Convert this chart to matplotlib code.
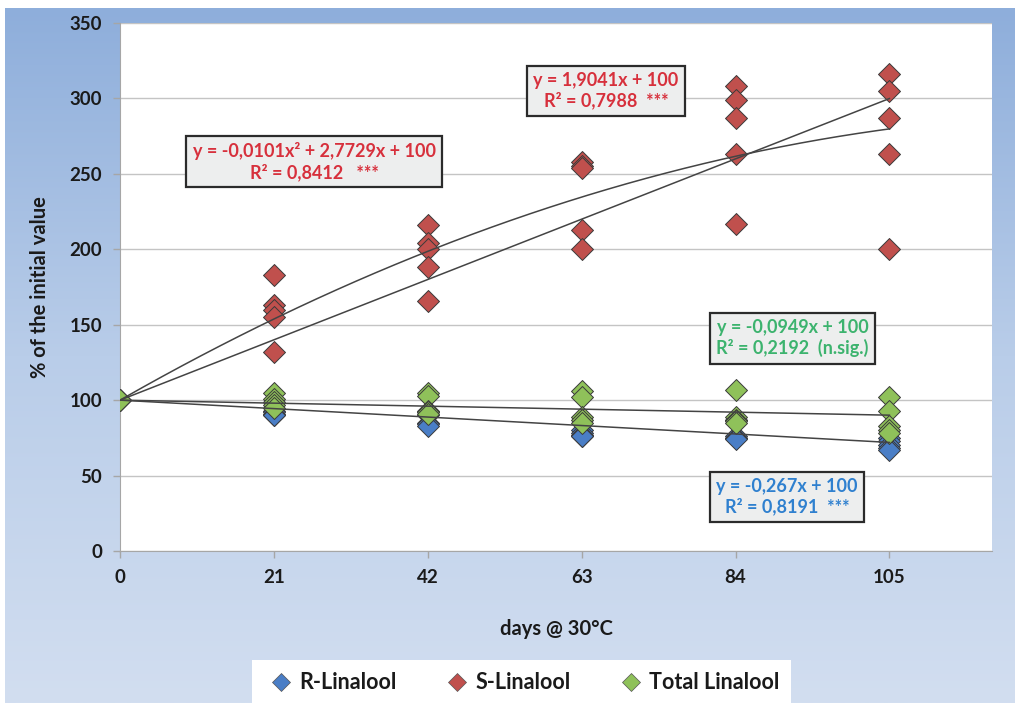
import numpy as np
import matplotlib
matplotlib.use('Agg')
import matplotlib.pyplot as plt
from matplotlib.lines import Line2D
from matplotlib.colors import LinearSegmentedColormap

plt.rcParams['font.family'] = ['Lato', 'DejaVu Sans']

# days of storage, 5 replicates per day (day 0 = 100 %)
days = [0, 21, 42, 63, 84, 105]

r_linalool = [
    [100],
    [93, 92, 91, 90, 90],
    [92, 90, 85, 84, 83],
    [80, 78, 77, 76, 76],
    [87, 76, 75, 75, 74],
    [75, 73, 70, 68, 67],
]
s_linalool = [
    [100],
    [183, 163, 160, 155, 132],
    [216, 204, 200, 188, 166],
    [258, 255, 254, 213, 200],
    [308, 299, 287, 263, 217],
    [316, 305, 287, 263, 200],
]
total_linalool = [
    [100],
    [105, 101, 99, 97, 95],
    [105, 103, 93, 92, 91],
    [106, 102, 89, 87, 85],
    [107, 89, 87, 86, 85],
    [102, 93, 83, 80, 78],
]

series_names = ['R-Linalool', 'S-Linalool', 'Total Linalool']
marker_colors = ['#4a7ec6', '#c0504d', '#8fc15a']
text_colors = ['#2f80cf', '#d7303c', '#3cb36e']


def flatten(groups):
    xs, ys = [], []
    for d, vals in zip(days, groups):
        xs += [d] * len(vals)
        ys += vals
    return xs, ys


fig = plt.figure(figsize=(10.19, 7.03), dpi=100)
fig.patch.set_facecolor('white')

# blue gradient background
bg = fig.add_axes([5 / 1019, 0, 1009 / 1019, 695 / 703], zorder=-5)
cmap = LinearSegmentedColormap.from_list('bg', ['#8eaedb', '#b9cde9', '#d2def0'])
bg.imshow(np.linspace(0, 1, 256).reshape(-1, 1), aspect='auto', cmap=cmap,
          extent=[0, 1, 0, 1])
bg.axis('off')

ax = fig.add_axes([120 / 1019, 152 / 703, 872 / 1019, 528 / 703])
ax.set_facecolor('white')

for data, col in zip([r_linalool, s_linalool, total_linalool], marker_colors):
    xs, ys = flatten(data)
    ax.scatter(xs, ys, marker='D', s=125, color=col, edgecolor='#3a3a3a',
               linewidth=0.7, zorder=3)

# trendlines
xt = np.linspace(0, 105, 200)
ax.plot(xt, -0.267 * xt + 100, color='#444444', lw=1.1, zorder=4)
ax.plot(xt, -0.0949 * xt + 100, color='#444444', lw=1.1, zorder=4)
ax.plot(xt, 1.9041 * xt + 100, color='#444444', lw=1.1, zorder=4)
ax.plot(xt, -0.0101 * xt ** 2 + 2.7729 * xt + 100, color='#444444', lw=1.1, zorder=4)

box = dict(boxstyle='square,pad=0.35', fc='#edeeee', ec='#2b2b2b', lw=1.6)
kw = dict(fontsize=13, fontweight='bold', ha='center', va='center', bbox=box,
          linespacing=1.2, zorder=5)
ax.text(66.3, 305, 'y = 1,9041x + 100\nR² = 0,7988  ***', color=text_colors[1], **kw)
ax.text(26.5, 258, 'y = -0,0101x² + 2,7729x + 100\nR² = 0,8412   ***',
        color=text_colors[1], **kw)
ax.text(91.8, 141, 'y = -0,0949x + 100\nR² = 0,2192  (n.sig.)',
        color=text_colors[2], **kw)
ax.text(91, 36, 'y = -0,267x + 100\nR² = 0,8191  ***', color=text_colors[0], **kw)

ax.set_xlim(0, 119)
ax.set_ylim(0, 350)
ax.set_xticks(days)
ax.set_yticks(np.arange(0, 351, 50))
ax.grid(axis='y', color='#c4c4c4', lw=1)
ax.set_axisbelow(True)
for side in ['top', 'right']:
    ax.spines[side].set_visible(False)
for side in ['left', 'bottom']:
    ax.spines[side].set_color('#a6a6a6')
ax.tick_params(colors='#a6a6a6', length=5, width=1, labelcolor='#1a1a1a',
               labelsize=13.5, pad=8)
for lbl in ax.get_xticklabels() + ax.get_yticklabels():
    lbl.set_fontweight('bold')

ax.set_xlabel('days @ 30°C', fontsize=14.5, fontweight='bold', color='#1a1a1a',
              labelpad=24)
ax.set_ylabel('% of the initial value', fontsize=14.5, fontweight='bold',
              color='#1a1a1a', labelpad=14)

handles = [Line2D([], [], marker='D', ls='none', color=c, markeredgecolor='#555555',
                  markeredgewidth=0.5, markersize=9) for c in marker_colors]
leg = fig.legend(handles, series_names, loc='lower center', ncol=3,
                 bbox_to_anchor=(0.512, -0.018), fontsize=15.5, frameon=True,
                 fancybox=False, handletextpad=0.05, columnspacing=2.0,
                 handlelength=1.6, borderpad=0.55)
leg.get_frame().set_edgecolor('none')
leg.get_frame().set_facecolor('white')
leg.get_frame().set_alpha(1)
for t in leg.get_texts():
    t.set_fontweight('bold')
    t.set_color('#1a1a1a')

fig.savefig('out.png', dpi=100)
